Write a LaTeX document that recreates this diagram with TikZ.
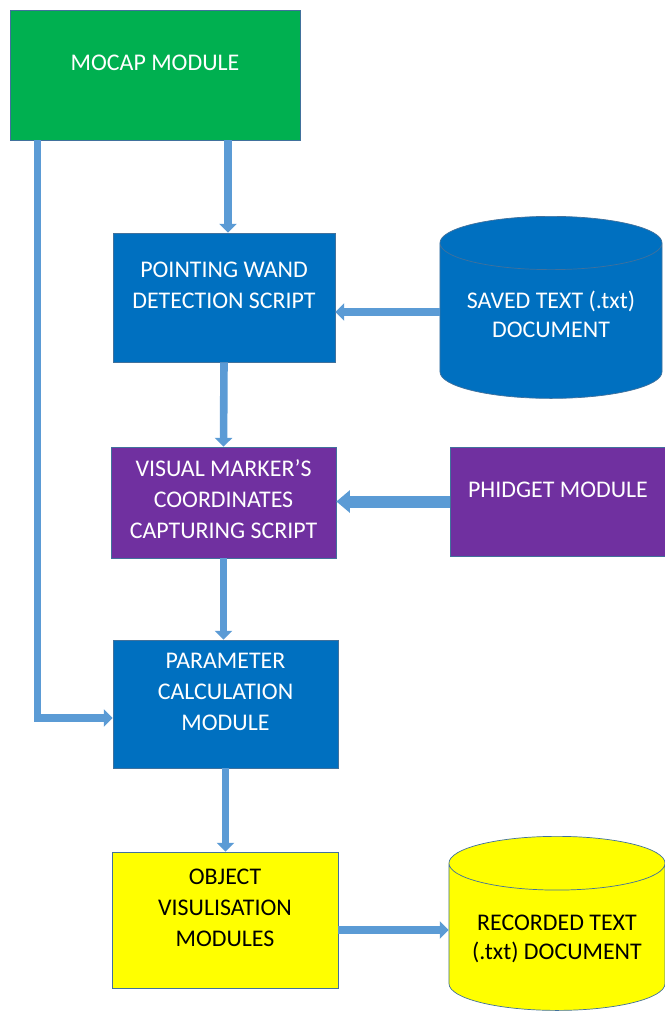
\documentclass[tikz,border=0pt]{standalone}
\usepackage{fontspec}
\setmainfont{Carlito}
\usetikzlibrary{arrows.meta,shapes.geometric}
\definecolor{mocapgreen}{HTML}{00B050}
\definecolor{scriptblue}{HTML}{0070C0}
\definecolor{phidgetpurple}{HTML}{7030A0}
\definecolor{outputyellow}{HTML}{FFFF00}
\definecolor{rimblue}{HTML}{41719C}
\definecolor{arrowblue}{HTML}{5B9BD5}
\tikzset{
    modbox/.style={draw=rimblue, line width=0.5pt, text=white, align=center,
        font=\fontsize{17}{22}\selectfont, text depth=0.6cm},
    store/.style={draw=rimblue, line width=0.5pt, text=white, align=center,
        font=\fontsize{17}{20.5}\selectfont, text height=1.0cm,
        cylinder, shape border rotate=90, aspect=0.3, anchor=north},
    flow/.style={draw=arrowblue, line width=1.9mm, -{Triangle[width=4.3mm,length=2.2mm]}},
    bigflow/.style={draw=arrowblue, line width=3mm, -{Triangle[width=5.5mm,length=3.4mm]}}
}

\begin{document}
\begin{tikzpicture}[x=0.025cm,y=-0.025cm]

    \useasboundingbox (0,0) rectangle (665,1015);

    \node[modbox, fill=mocapgreen, minimum width=7.25cm, minimum height=3.25cm]
        (mocap) at (155,75) {MOCAP MODULE};
    \node[modbox, fill=scriptblue, minimum width=5.55cm, minimum height=3.225cm]
        (wand) at (224,297.5) {POINTING WAND\\DETECTION SCRIPT};
    \node[store, fill=scriptblue, minimum width=5.55cm, minimum height=4.55cm, text height=0.65cm]
        (saved) at (551,216) {SAVED TEXT (.txt)\\DOCUMENT};
    \node[modbox, fill=phidgetpurple, minimum width=5.625cm, minimum height=2.775cm, text depth=0.15cm]
        (marker) at (223.5,502.5) {VISUAL MARKER'S\\COORDINATES\\CAPTURING SCRIPT};
    \node[modbox, fill=phidgetpurple, minimum width=5.4cm, minimum height=2.725cm]
        (phidget) at (558,501.5) {PHIDGET MODULE};
    \node[modbox, fill=scriptblue, minimum width=5.625cm, minimum height=3.2cm]
        (param) at (225.5,704) {PARAMETER\\CALCULATION\\MODULE};
    \node[modbox, fill=outputyellow, text=black, minimum width=5.65cm, minimum height=3.4cm]
        (object) at (225,920) {OBJECT\\VISULISATION\\MODULES};
    \node[store, fill=outputyellow, text=black, minimum width=5.4cm, minimum height=4.35cm]
        (recorded) at (557,836) {RECORDED TEXT\\(.txt) DOCUMENT};

    % links between the modules
    \draw[flow] ([xshift=0.1cm]wand.north |- mocap.south) -- ([xshift=0.1cm]wand.north);
    \draw[flow] ([xshift=0.7cm]mocap.south west) |- ([yshift=-0.35cm]param.west);
    \draw[flow] (saved.west |- 0,312) -- (wand.east |- 0,312);
    \draw[flow] (wand.south) -- (marker.north);
    \draw[bigflow] (phidget.west) -- (phidget.west -| marker.east);
    \draw[flow] (marker.south) -- (marker.south |- param.north);
    \draw[flow] (param.south) -- (param.south |- object.north);
    \draw[flow] (object.east |- 0,930) -- (recorded.west |- 0,930);

\end{tikzpicture}
\end{document}
